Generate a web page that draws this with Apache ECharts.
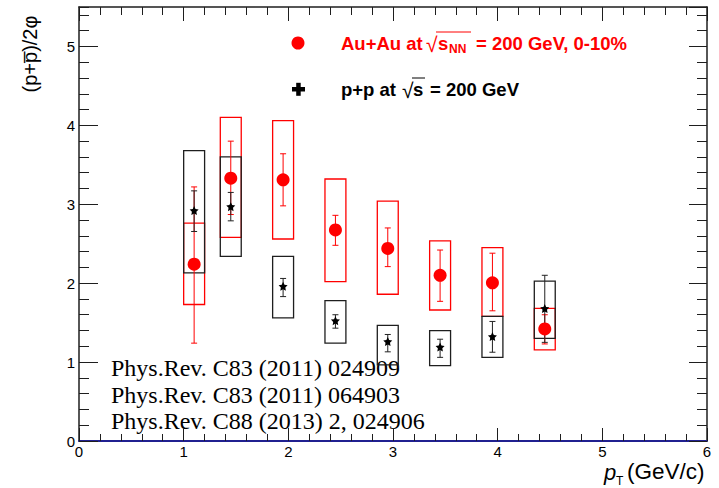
<!DOCTYPE html>
<html>
<head>
<meta charset="utf-8">
<script src="https://cdn.jsdelivr.net/npm/echarts@6/dist/echarts.min.js"></script>
<style>
  html, body { margin: 0; padding: 0; background: #fff; }
  #chart { width: 719px; height: 488px; }
</style>
</head>
<body>
<div id="chart"></div>
<script>
// pT bin centres (GeV/c)
const pt = [1.10, 1.45, 1.95, 2.45, 2.95, 3.45, 3.95, 4.45];

// Au+Au 0-10%: (p+pbar)/2phi with statistical and systematic ranges
const ratioAuAu   = [2.24, 3.33, 3.31, 2.675, 2.44, 2.10, 2.005, 1.42];
const statLoAuAu  = [1.24, 2.87, 2.98, 2.48, 2.21, 1.77, 1.65, 1.23];
const statHiAuAu  = [3.22, 3.80, 3.64, 2.86, 2.70, 2.42, 2.38, 1.60];
const sysLoAuAu   = [1.73, 2.58, 2.56, 2.02, 1.86, 1.66, 1.58, 1.155];
const sysHiAuAu   = [2.76, 4.10, 4.06, 3.32, 3.04, 2.535, 2.45, 1.68];

// p+p: (p+pbar)/2phi with statistical and systematic ranges
const ratioPP     = [2.92, 2.97, 1.96, 1.525, 1.26, 1.19, 1.325, 1.68];
const statLoPP    = [2.655, 2.79, 1.83, 1.43, 1.13, 1.06, 1.125, 1.25];
const statHiPP    = [3.17, 3.15, 2.06, 1.60, 1.35, 1.29, 1.515, 2.10];
const sysLoPP     = [2.13, 2.34, 1.56, 1.24, 0.965, 0.955, 1.06, 1.30];
const sysHiPP     = [3.68, 3.60, 2.34, 1.78, 1.465, 1.40, 1.58, 2.025];

// publications the points are taken from
const references = [
  'Phys.Rev. C83 (2011) 024909',
  'Phys.Rev. C83 (2011) 064903',
  'Phys.Rev. C88 (2013) 2, 024906'
];

// axis ranges and tick steps
const xRange = [0, 6];
const yRange = [0, 5.5];
const xMajor = 1;
const yMajor = 1;
const yMinor = 0.2;

// half width of the systematic boxes in pT units
const BOX_HALF = 0.1;

const RED = '#ff0000';
const DARK = '#1e1e1e';
const SANS = 'Liberation Sans, Arial, sans-serif';
const SERIF = 'Liberation Serif, Times New Roman, serif';

const chart = echarts.init(document.getElementById('chart'), null, { renderer: 'svg' });

function boxRender(color) {
  return function (params, api) {
    const x = api.value(0), lo = api.value(1), hi = api.value(2);
    const a = api.coord([x - BOX_HALF, hi]);
    const b = api.coord([x + BOX_HALF, lo]);
    return {
      type: 'rect',
      shape: { x: a[0], y: a[1], width: b[0] - a[0], height: b[1] - a[1] },
      style: { fill: 'none', stroke: color, lineWidth: 1.3 }
    };
  };
}

function errRender(color, capHalf) {
  return function (params, api) {
    const x = api.value(0), lo = api.value(1), hi = api.value(2);
    const p = api.coord([x, lo]);
    const q = api.coord([x, hi]);
    const st = { stroke: color, lineWidth: 1 };
    return {
      type: 'group',
      children: [
        { type: 'line', shape: { x1: p[0], y1: p[1], x2: q[0], y2: q[1] }, style: st },
        { type: 'line', shape: { x1: p[0] - capHalf, y1: p[1], x2: p[0] + capHalf, y2: p[1] }, style: st },
        { type: 'line', shape: { x1: q[0] - capHalf, y1: q[1], x2: q[0] + capHalf, y2: q[1] }, style: st }
      ]
    };
  };
}

const triple = (lo, hi) => pt.map((x, i) => [x, lo[i], hi[i]]);
const pairs = (vals) => pt.map((x, i) => [x, vals[i]]);

const STAR = 'path://M0,-10 L2.9,-4 L9.5,-3.1 L4.7,1.5 L5.9,8.1 L0,5 L-5.9,8.1 L-4.7,1.5 L-9.5,-3.1 L-2.9,-4 Z';

function xAxisCfg(pos, showLabel, tickLen, minorLen, lineColor, lineWidth) {
  return {
    type: 'value', position: pos, min: xRange[0], max: xRange[1], interval: xMajor,
    axisLine: { show: true, onZero: false, lineStyle: { color: lineColor, width: lineWidth } },
    axisTick: { show: true, inside: true, length: tickLen, lineStyle: { color: DARK, width: 1 } },
    minorTick: { show: true, splitNumber: 5, length: minorLen, lineStyle: { color: DARK, width: 1 } },
    axisLabel: { show: showLabel, color: '#000', fontFamily: SANS, fontSize: 15, margin: 3 },
    splitLine: { show: false }, minorSplitLine: { show: false }
  };
}

function yAxisCfg(pos, step, showLine, showLabel, tickLen) {
  return {
    type: 'value', position: pos, min: yRange[0], max: yRange[1], interval: step,
    axisLine: { show: showLine, onZero: false, lineStyle: { color: DARK, width: 1.5 } },
    axisTick: { show: true, inside: true, length: tickLen, lineStyle: { color: DARK, width: 1 } },
    axisLabel: { show: showLabel, color: '#000', fontFamily: SANS, fontSize: 15, margin: 4, showMaxLabel: false },
    splitLine: { show: false }
  };
}

function txt(x, y, text, size, color, extra) {
  return {
    type: 'text', x: x, y: y, silent: true,
    style: Object.assign({
      text: text, fill: color, fontFamily: SANS, fontSize: size,
      align: 'left', verticalAlign: 'middle'
    }, extra || {})
  };
}

const option = {
  animation: false,
  backgroundColor: '#fff',
  grid: { left: 79, right: 12, top: 7, bottom: 47 },
  xAxis: [
    xAxisCfg('bottom', true, 13, 7, '#202090', 2),
    xAxisCfg('top', false, 14, 8, DARK, 1.5)
  ],
  yAxis: [
    yAxisCfg('left', yMajor, true, true, 19),
    yAxisCfg('right', yMajor, true, false, 18),
    yAxisCfg('left', yMinor, false, false, 10),
    yAxisCfg('right', yMinor, false, false, 10)
  ],
  series: [
    { type: 'custom', name: 'AuAu sys', renderItem: boxRender(RED), data: triple(sysLoAuAu, sysHiAuAu),
      encode: { x: 0, y: [1, 2] }, z: 2 },
    { type: 'custom', name: 'pp sys', renderItem: boxRender(DARK), data: triple(sysLoPP, sysHiPP),
      encode: { x: 0, y: [1, 2] }, z: 2 },
    { type: 'custom', name: 'AuAu stat', renderItem: errRender(RED, 3), data: triple(statLoAuAu, statHiAuAu),
      encode: { x: 0, y: [1, 2] }, z: 3 },
    { type: 'custom', name: 'pp stat', renderItem: errRender('#222', 3), data: triple(statLoPP, statHiPP),
      encode: { x: 0, y: [1, 2] }, z: 3 },
    { type: 'scatter', name: 'Au+Au', data: pairs(ratioAuAu), symbol: 'circle', symbolSize: 13,
      itemStyle: { color: RED, opacity: 1 }, z: 4 },
    { type: 'scatter', name: 'p+p', data: pairs(ratioPP), symbol: STAR, symbolSize: 9,
      itemStyle: { color: '#000', opacity: 1 }, z: 5 }
  ],
  graphic: [
    // y-axis title
    {
      type: 'text', x: 30, y: 54, rotation: Math.PI / 2, silent: true,
      style: { text: '(p+p\u0305)/2\u03c6', fill: '#000', fontFamily: SANS, fontSize: 20,
               align: 'center', verticalAlign: 'middle' }
    },
    // x-axis title
    txt(604, 472, 'p', 22, '#000', { fontStyle: 'italic' }),
    txt(616, 481, 'T', 12, '#000'),
    txt(627, 471, '(GeV/c)', 22.5, '#000'),

    // legend: Au+Au
    { type: 'circle', shape: { cx: 298, cy: 43, r: 6.5 }, style: { fill: RED }, silent: true },
    txt(341, 43, 'Au+Au at', 18.5, RED, { fontWeight: 'bold' }),
    txt(426, 44, '\u221a', 21, RED),
    { type: 'line', shape: { x1: 436, y1: 32, x2: 471, y2: 32 }, style: { stroke: RED, lineWidth: 1 }, silent: true },
    txt(438, 43, 's', 18.5, RED, { fontWeight: 'bold' }),
    txt(449, 49, 'NN', 12, RED, { fontWeight: 'bold' }),
    txt(476, 43, '= 200 GeV, 0-10%', 18.5, RED, { fontWeight: 'bold' }),

    // legend: p+p
    { type: 'rect', shape: { x: 292, y: 87, width: 13, height: 4.5 }, style: { fill: '#000' }, silent: true },
    { type: 'rect', shape: { x: 296.2, y: 82.8, width: 4.5, height: 13 }, style: { fill: '#000' }, silent: true },
    txt(341, 89, 'p+p at', 18.5, '#000', { fontWeight: 'bold' }),
    txt(402, 90, '\u221a', 21, '#000'),
    { type: 'line', shape: { x1: 412, y1: 78, x2: 425, y2: 78 }, style: { stroke: '#000', lineWidth: 1 }, silent: true },
    txt(413, 89, 's', 18.5, '#000', { fontWeight: 'bold' }),
    txt(430, 89, '= 200 GeV', 18.5, '#000', { fontWeight: 'bold' }),

    // references, one block of three lines
    {
      type: 'text', x: 111, y: 355, silent: true,
      style: {
        text: references.join('\n'), fill: '#000', fontFamily: SERIF, fontSize: 24,
        lineHeight: 26.5, align: 'left', verticalAlign: 'top'
      }
    }
  ]
};

chart.setOption(option);
</script>
</body>
</html>
